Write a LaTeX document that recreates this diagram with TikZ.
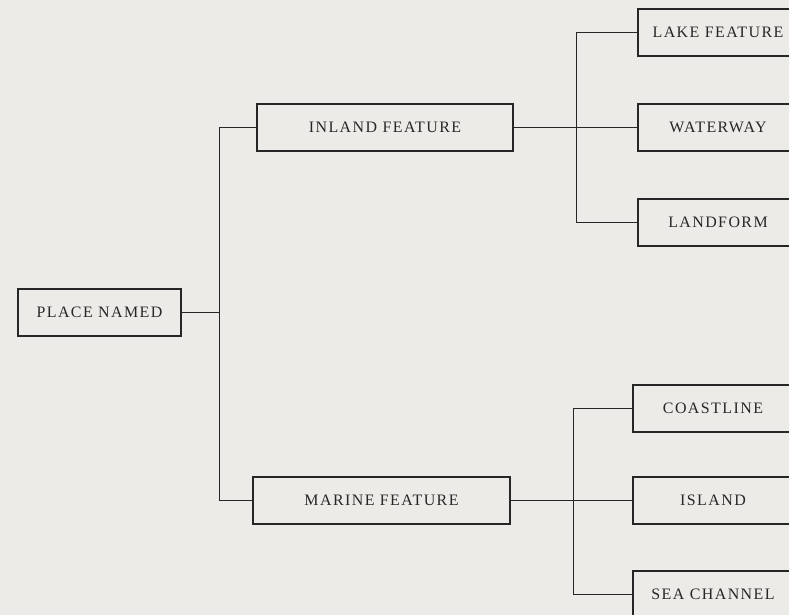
\documentclass[tikz,border=0pt]{standalone}
\usepackage{fontspec}
\setmainfont{Liberation Serif}[LetterSpace=9]
\usepackage{tikz}
\usepackage{xcolor}
\definecolor{pageGrey}{HTML}{ECEBE7}
\definecolor{inkDark}{HTML}{262626}

\begin{document}
\begin{tikzpicture}[x=1bp,y=-1bp]
    \pgfmathsetmacro{\h}{47}
    \tikzset{
        catbox/.style={draw=inkDark,line width=1.5bp,inner sep=0pt,minimum height=\h bp,text=inkDark,font=\fontsize{16}{18}\selectfont},
        link/.style={draw=inkDark,line width=1.4bp}
    };
    \fill[pageGrey] (0,0) rectangle (789,615);
    \useasboundingbox (0,0) rectangle (789,615);
    \clip (0,0) rectangle (789,615);
    \node[catbox,minimum width=163bp] (place) at (99.5,312.5) {PLACE NAMED};
    \node[catbox,minimum width=256bp] (inland) at (385,127.5) {INLAND FEATURE};
    \node[catbox,minimum width=257bp] (marine) at (381.5,500.5) {MARINE FEATURE};
    \node[catbox,minimum width=160bp] (lake) at (718,32.5) {LAKE FEATURE};
    \node[catbox,minimum width=160bp] (waterway) at (718,127.5) {WATERWAY};
    \node[catbox,minimum width=160bp] (landform) at (718,222.5) {LANDFORM};
    \node[catbox,minimum width=160bp] (coast) at (713,408.5) {COASTLINE};
    \node[catbox,minimum width=160bp] (island) at (713,500.5) {ISLAND};
    \node[catbox,minimum width=160bp] (channel) at (713,594.5) {SEA CHANNEL};
    \coordinate (jleft) at (219.5,312.5);
    \coordinate (jtop) at (576.5,127.5);
    \coordinate (jlow) at (573.5,500.5);
    \draw[link] (place.east) -- (jleft);
    \draw[link] (inland.west) -| (jleft) |- (marine.west);
    \draw[link] (inland.east) -- (waterway.west);
    \draw[link] (lake.west) -| (jtop) |- (landform.west);
    \draw[link] (marine.east) -- (island.west);
    \draw[link] (coast.west) -| (jlow) |- (channel.west);
\end{tikzpicture}
\end{document}
